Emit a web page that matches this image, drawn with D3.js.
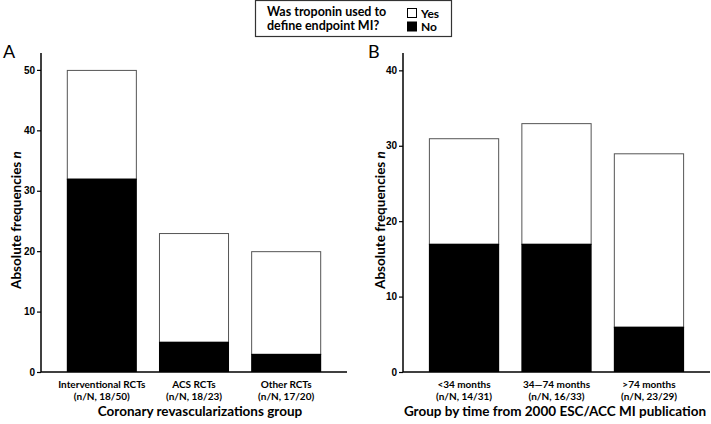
<!DOCTYPE html>
<html>
<head>
<meta charset="utf-8">
<script src="https://cdn.jsdelivr.net/npm/d3@7"></script>
<style>
  body { margin: 0; background: #fff; }
  svg { font-family: Lato, "Open Sans", sans-serif; }
  .tick text { font-size: 10px; font-weight: bold; }
</style>
</head>
<body>
<svg id="chart" width="711" height="424"></svg>
<script>
// panel A data
var groupsA = ["Interventional RCTs", "ACS RCTs", "Other RCTs"];
var countsA = ["(n/N, 18/50)", "(n/N, 18/23)", "(n/N, 17/20)"];
var noA = [32, 5, 3];
var yesA = [18, 18, 17];
var ticksA = [0, 10, 20, 30, 40, 50];

// panel B data
var groupsB = ["<34 months", "34\u201474 months", ">74 months"];
var countsB = ["(n/N, 14/31)", "(n/N, 16/33)", "(n/N, 23/29)"];
var noB = [17, 17, 6];
var yesB = [14, 16, 23];
var ticksB = [0, 10, 20, 30, 40];

var svg = d3.select("#chart");

function drawPanel(opt) {
    var x = d3.scaleBand()
        .domain(opt.groups)
        .range([opt.left, opt.right])
        .paddingInner(0.24)
        .paddingOuter(0.28);

    var y = d3.scaleLinear()
        .domain([0, opt.yMax])
        .range([372, 53]);

    var g = svg.append("g");

    var data = opt.groups.map(function(d, i) {
        return {group: d, no: opt.no[i], yes: opt.yes[i], count: opt.counts[i]};
    });

    // white (Yes) part on top of black (No)
    g.selectAll(".yes")
        .data(data)
        .enter().append("rect")
        .attr("x", function(d) { return x(d.group) + 0.5; })
        .attr("y", function(d) { return y(d.no + d.yes) + 0.5; })
        .attr("width", x.bandwidth() - 1)
        .attr("height", function(d) { return y(d.no) - y(d.no + d.yes); })
        .attr("fill", "#fff")
        .attr("stroke", "#555")
        .attr("stroke-width", 1);

    g.selectAll(".no")
        .data(data)
        .enter().append("rect")
        .attr("x", function(d) { return x(d.group); })
        .attr("y", function(d) { return y(d.no); })
        .attr("width", x.bandwidth())
        .attr("height", function(d) { return y(0) - y(d.no); })
        .attr("fill", "#000");

    // y axis
    var yAxis = d3.axisLeft(y).tickValues(opt.ticks).tickSize(4).tickPadding(2);
    var ya = g.append("g")
        .attr("transform", "translate(" + opt.left + ",0)")
        .call(yAxis);
    ya.select(".domain").remove();
    ya.selectAll(".tick line").attr("stroke-width", 1.2);
    g.append("line")
        .attr("x1", opt.left).attr("x2", opt.left)
        .attr("y1", y(opt.yMax)).attr("y2", y(0))
        .attr("stroke", "#000").attr("stroke-width", 1.5);

    // x axis line
    g.append("line")
        .attr("x1", opt.left).attr("x2", opt.right)
        .attr("y1", y(0)).attr("y2", y(0))
        .attr("stroke", "#000").attr("stroke-width", 1.5);

    // category labels
    var lab = g.selectAll(".cat")
        .data(data)
        .enter().append("text")
        .attr("text-anchor", "middle")
        .style("font-size", "10px")
        .style("font-weight", "bold");
    lab.append("tspan")
        .attr("x", function(d) { return x(d.group) + x.bandwidth() / 2; })
        .attr("y", 388)
        .text(function(d) { return d.group; });
    lab.append("tspan")
        .attr("x", function(d) { return x(d.group) + x.bandwidth() / 2; })
        .attr("y", 400)
        .text(function(d) { return d.count; });

    // x title
    g.append("text")
        .attr("x", opt.titleX)
        .attr("y", 416)
        .attr("text-anchor", "middle")
        .style("font-size", "13.5px")
        .style("font-weight", "bold")
        .text(opt.xTitle);

    // y title
    var yt = g.append("text")
        .attr("transform", "translate(" + opt.yTitleX + "," + 220 + ") rotate(-90)")
        .attr("text-anchor", "middle")
        .style("font-size", "13.5px")
        .style("font-weight", "bold");
    yt.append("tspan").text("Absolute frequencies ");
    yt.append("tspan").style("font-style", "italic").text("n");

    // panel letter
    g.append("text")
        .attr("x", opt.letterX)
        .attr("y", 58)
        .style("font-size", "18px")
        .text(opt.letter);
}

drawPanel({
    groups: groupsA, counts: countsA, no: noA, yes: yesA, ticks: ticksA,
    yMax: 52.8, left: 41, right: 347, letter: "A", letterX: 3,
    yTitleX: 21, titleX: 200, xTitle: "Coronary revascularizations group"
});

drawPanel({
    groups: groupsB, counts: countsB, no: noB, yes: yesB, ticks: ticksB,
    yMax: 42.3, left: 403, right: 710, letter: "B", letterX: 368,
    yTitleX: 385, titleX: 555, xTitle: "Group by time from 2000 ESC/ACC MI publication"
});

// legend
var leg = svg.append("g");
leg.append("rect")
    .attr("x", 255.5).attr("y", 0.5)
    .attr("width", 196).attr("height", 36)
    .attr("fill", "#fff").attr("stroke", "#333").attr("stroke-width", 1.2);
leg.append("text")
    .attr("x", 267).attr("y", 16)
    .style("font-size", "12.5px").style("font-weight", "bold")
    .text("Was troponin used to");
leg.append("text")
    .attr("x", 267).attr("y", 30)
    .style("font-size", "12.5px").style("font-weight", "bold")
    .text("define endpoint MI?");
var legItems = [{label: "Yes", fill: "#fff"}, {label: "No", fill: "#000"}];
leg.selectAll(".sw")
    .data(legItems)
    .enter().append("rect")
    .attr("x", 407.5).attr("y", function(d, i) { return 8.5 + i * 13.5; })
    .attr("width", 9).attr("height", 9)
    .attr("fill", function(d) { return d.fill; })
    .attr("stroke", "#000");
leg.selectAll(".lt")
    .data(legItems)
    .enter().append("text")
    .attr("x", 421).attr("y", function(d, i) { return 17.5 + i * 13.5; })
    .style("font-size", "12px").style("font-weight", "bold")
    .text(function(d) { return d.label; });
</script>
</body>
</html>
